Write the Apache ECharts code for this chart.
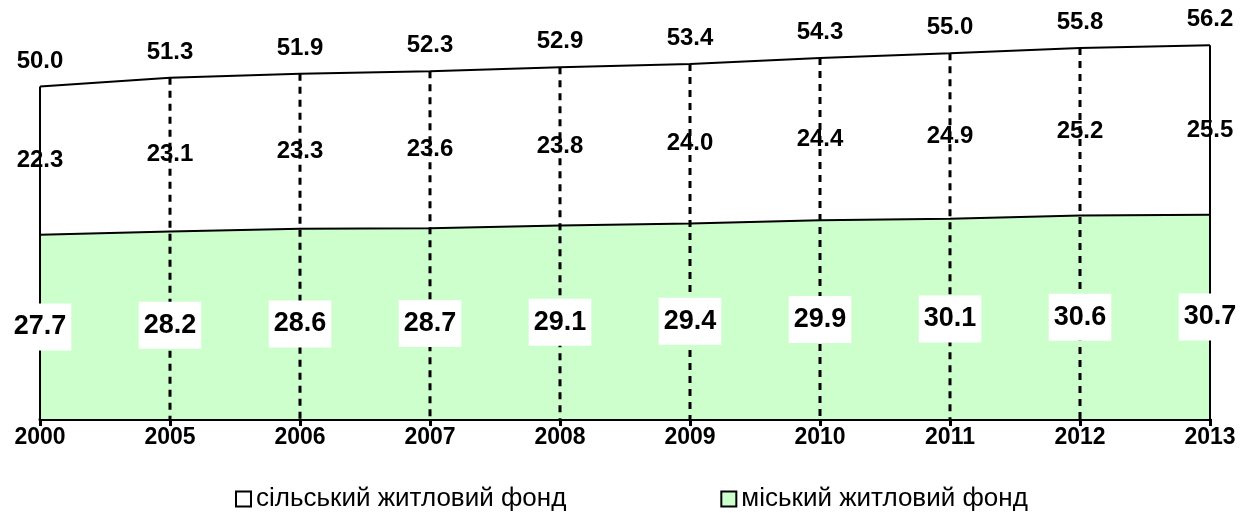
<!DOCTYPE html>
<html>
    <head>
        <meta charset="UTF-8">
        <title>Житловий фонд</title>
        <script src="https://cdnjs.cloudflare.com/ajax/libs/echarts/6.0.0/echarts.min.js"></script>
        <style>
            html, body {
                margin: 0;
                padding: 0;
                background: #fff;
            }
            #chart {
                width: 1248px;
                height: 527px;
            }
        </style>
    </head>
    <body>
        <div id="chart"></div>
        <script>
            const years = ['2000', '2005', '2006', '2007', '2008', '2009', '2010', '2011', '2012', '2013'];
            const urban = [27.7, 28.2, 28.6, 28.7, 29.1, 29.4, 29.9, 30.1, 30.6, 30.7];
            const rural = [22.3, 23.1, 23.3, 23.6, 23.8, 24.0, 24.4, 24.9, 25.2, 25.5];
            const totals = [50.0, 51.3, 51.9, 52.3, 52.9, 53.4, 54.3, 55.0, 55.8, 56.2];

            const ruralName = 'сільський житловий фонд';
            const urbanName = 'міський житловий фонд';
            const font = '"Liberation Sans", Arial, sans-serif';

            const chart = echarts.init( document.getElementById('chart') );

            // middle points of each band, only used to place the labels
            const urbanMid = urban.map( (v, i) => [ i, v / 2 ] );
            const ruralMid = rural.map( (v, i) => [ i, urban[i] + v / 2 ] );
            const totalTop = totals.map( (v, i) => [ i, v ] );

            function drawStick(params, api) {
                const i = api.value(0);
                const top = api.coord( [ i, api.value(1) ] );
                const bottom = api.coord( [ i, 0 ] );
                const edge = i === 0 || i === years.length - 1;
                return {
                    type: 'line',
                    shape: { x1: top[0], y1: top[1], x2: bottom[0], y2: bottom[1] },
                    style: {
                        stroke: '#000',
                        lineWidth: edge ? 2 : 3,
                        lineDash: edge ? null : [ 7, 6 ]
                    }
                };
            }

            function labelSeries(data, label) {
                return {
                    type: 'scatter',
                    data: data,
                    symbolSize: 1,
                    silent: true,
                    itemStyle: { color: 'rgba(0,0,0,0)', opacity: 1 },
                    label: Object.assign( {
                        show: true,
                        color: '#000',
                        fontFamily: font,
                        fontWeight: 'bold',
                        fontSize: 24
                    }, label ),
                    z: 5
                };
            }

            const option = {
                animation: false,
                backgroundColor: '#fff',
                grid: { left: 40, right: 38, top: 20, bottom: 108 },
                legend: {
                    left: 230,
                    top: 481,
                    itemGap: 154,
                    itemWidth: 15,
                    itemHeight: 15,
                    icon: 'rect',
                    textStyle: { fontFamily: font, fontSize: 26, color: '#000' },
                    data: [
                        { name: ruralName, itemStyle: { color: '#fff', borderColor: '#000', borderWidth: 2 } },
                        { name: urbanName, itemStyle: { color: '#ccffcc', borderColor: '#000', borderWidth: 2 } }
                    ]
                },
                xAxis: {
                    type: 'category',
                    data: years,
                    boundaryGap: false,
                    axisLine: { lineStyle: { color: '#000', width: 3 } },
                    axisTick: { length: 7, lineStyle: { color: '#000', width: 3 } },
                    axisLabel: { color: '#000', fontFamily: font, fontWeight: 'bold', fontSize: 23, margin: 7 },
                    splitLine: { show: false }
                },
                yAxis: {
                    type: 'value',
                    min: 0,
                    max: 60,
                    show: false
                },
                series: [
                    {
                        name: urbanName,
                        type: 'line',
                        stack: 'fund',
                        data: urban,
                        symbol: 'none',
                        lineStyle: { color: '#000', width: 2 },
                        itemStyle: { color: '#ccffcc' },
                        areaStyle: { color: '#ccffcc', opacity: 1 },
                        z: 2
                    },
                    {
                        name: ruralName,
                        type: 'line',
                        stack: 'fund',
                        data: rural,
                        symbol: 'none',
                        lineStyle: { color: '#000', width: 2 },
                        itemStyle: { color: '#fff' },
                        areaStyle: { color: '#fff', opacity: 1 },
                        z: 2
                    },
                    {
                        type: 'custom',
                        data: totalTop,
                        renderItem: drawStick,
                        silent: true,
                        z: 3
                    },
                    labelSeries( totalTop, {
                        position: 'top',
                        distance: 13,
                        formatter: p => totals[ p.dataIndex ].toFixed(1)
                    } ),
                    labelSeries( ruralMid, {
                        position: 'inside',
                        formatter: p => rural[ p.dataIndex ].toFixed(1)
                    } ),
                    labelSeries( urbanMid, {
                        position: 'inside',
                        backgroundColor: '#fff',
                        padding: [ 10, 5, 10, 5 ],
                        fontSize: 27,
                        formatter: p => urban[ p.dataIndex ].toFixed(1)
                    } )
                ]
            };

            chart.setOption( option );
        </script>
    </body>
</html>
